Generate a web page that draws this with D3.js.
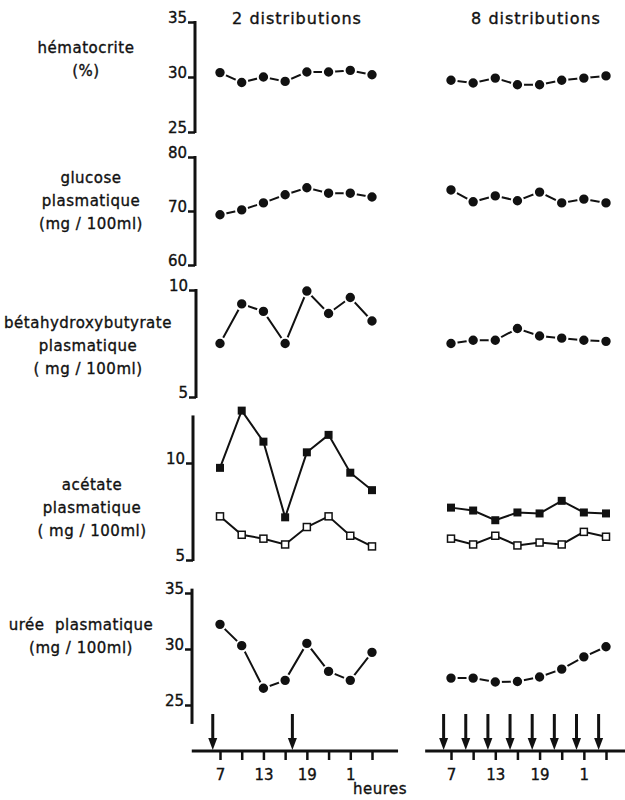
<!DOCTYPE html>
<html>
<head>
<meta charset="utf-8">
<script src="https://cdn.jsdelivr.net/npm/d3@7"></script>
<style>
  body { margin: 0; background: #fff; }
  svg text { font-family: "DejaVu Sans", sans-serif; fill: #111; stroke: #111; stroke-width: 0.35px; }
</style>
</head>
<body>
<div class="graph"></div>
<script>
// sampling hours (25 = 1h, 28 = 4h next day)
const hours = [7, 10, 13, 16, 19, 22, 25, 28];
const hourLabels = { 7: "7", 13: "13", 19: "19", 25: "1" };
// meal times (arrows)
const mealsTwo = [6, 17];
const mealsEight = [6, 9, 12, 15, 18, 21, 24, 27];

// values
const hematocrite2 = [30.4, 29.5, 30.0, 29.6, 30.45, 30.45, 30.6, 30.2];
const hematocrite8 = [29.7, 29.45, 29.9, 29.3, 29.3, 29.7, 29.9, 30.1];
const glucose2 = [69.3, 70.2, 71.5, 73.0, 74.3, 73.3, 73.3, 72.6];
const glucose8 = [73.9, 71.7, 72.8, 71.9, 73.5, 71.5, 72.2, 71.5];
const bhb2 = [7.5, 9.35, 9.0, 7.5, 9.95, 8.9, 9.65, 8.55];
const bhb8 = [7.5, 7.65, 7.65, 8.2, 7.85, 7.75, 7.65, 7.6];
const acetateFilled2 = [9.75, 12.7, 11.1, 7.2, 10.55, 11.45, 9.5, 8.6];
const acetateOpen2 = [7.25, 6.3, 6.1, 5.8, 6.7, 7.25, 6.25, 5.7];
const acetateFilled8 = [7.7, 7.55, 7.05, 7.45, 7.4, 8.05, 7.45, 7.4];
const acetateOpen8 = [6.1, 5.8, 6.25, 5.75, 5.9, 5.8, 6.45, 6.2];
const uree2 = [32.2, 30.3, 26.5, 27.2, 30.5, 28.0, 27.2, 29.7];
const uree8 = [27.4, 27.4, 27.05, 27.1, 27.5, 28.2, 29.3, 30.2];

const width = 625, height = 800;

const svg = d3.select(".graph").append("svg")
    .attr("width", width)
    .attr("height", height);

// x scales for the two halves
const xLeft = d3.scaleLinear().domain([7, 28]).range([220, 372]);
const xRight = d3.scaleLinear().domain([7, 28]).range([451, 606]);

// panel layout
const panels = [
    { label: ["hématocrite", "(%)"], labelX: 86, labelY: 48, domain: [25, 35], range: [132, 22],
      ticks: [25, 30, 35], axisX: 195, axisExtent: [25, 35],
      series: [{ left: hematocrite2, right: hematocrite8, shape: "circle" }] },
    { label: ["glucose", "plasmatique", "(mg / 100ml)"], labelX: 91, labelY: 178, domain: [60, 80], range: [265, 157],
      ticks: [60, 70, 80], axisX: 195, axisExtent: [60, 80],
      series: [{ left: glucose2, right: glucose8, shape: "circle" }] },
    { label: ["bétahydroxybutyrate", "plasmatique", "( mg / 100ml)"], labelX: 88, labelY: 323, domain: [5, 10], range: [397, 290],
      ticks: [5, 10], axisX: 196, axisExtent: [5, 10],
      series: [{ left: bhb2, right: bhb8, shape: "circle" }] },
    { label: ["acétate", "plasmatique", "( mg / 100ml)"], labelX: 92, labelY: 485, domain: [5, 10], range: [560, 463],
      ticks: [5, 10], axisX: 193, axisExtent: [5, 12.4],
      series: [{ left: acetateFilled2, right: acetateFilled8, shape: "filled" },
               { left: acetateOpen2, right: acetateOpen8, shape: "open" }] },
    { label: ["urée  plasmatique", "(mg / 100ml)"], labelX: 81, labelY: 625, domain: [25, 35], range: [705, 593],
      ticks: [25, 30, 35], axisX: 192, axisExtent: [23.4, 35.3],
      series: [{ left: uree2, right: uree8, shape: "circle" }] }
];

// column titles
svg.append("text").attr("x", 297).attr("y", 24).attr("text-anchor", "middle")
    .style("font-size", "16px").style("letter-spacing", "1px").text("2 distributions");
svg.append("text").attr("x", 536).attr("y", 24).attr("text-anchor", "middle")
    .style("font-size", "16px").style("letter-spacing", "1px").text("8 distributions");

panels.forEach(function(p) {
    const y = d3.scaleLinear().domain(p.domain).range(p.range);
    const g = svg.append("g");

    // label on the left
    p.label.forEach(function(line, i) {
        g.append("text")
            .attr("x", p.labelX)
            .attr("y", p.labelY + 5 + i * 23)
            .attr("text-anchor", "middle")
            .style("font-size", "15px")
            .style("letter-spacing", "0.5px")
            .style("white-space", "pre")
            .text(line);
    });

    // y axis
    const axis = g.append("g")
        .attr("transform", "translate(" + p.axisX + ",0)")
        .call(d3.axisLeft(y).tickValues(p.ticks).tickSize(7).tickPadding(1).tickFormat(d3.format("d")));
    axis.select(".domain").remove();
    axis.selectAll(".tick line").attr("stroke", "#111").attr("stroke-width", 2.5);
    axis.selectAll(".tick text")
        .attr("dy", "0.05em")
        .style("font-size", "15px")
        .style("font-family", "DejaVu Sans, sans-serif");
    g.append("line")
        .attr("x1", p.axisX).attr("x2", p.axisX)
        .attr("y1", y(p.axisExtent[0]) + 1).attr("y2", y(p.axisExtent[1]) - 1)
        .attr("stroke", "#111").attr("stroke-width", 3);

    // series for both halves
    p.series.forEach(function(s) {
        [[xLeft, s.left], [xRight, s.right]].forEach(function(pair) {
            const x = pair[0];
            const vals = pair[1];
            const pts = vals.map(function(v, i) { return [x(hours[i]), y(v)]; });
            g.append("path")
                .attr("d", d3.line()(pts))
                .attr("fill", "none")
                .attr("stroke", "#111")
                .attr("stroke-width", 2);
            if (s.shape === "circle") {
                g.selectAll(null).data(pts).enter().append("circle")
                    .attr("cx", function(d) { return d[0]; })
                    .attr("cy", function(d) { return d[1]; })
                    .attr("r", 5.7)
                    .attr("fill", "#111")
                    .attr("stroke", "#fff")
                    .attr("stroke-width", 2);
            } else if (s.shape === "filled") {
                g.selectAll(null).data(pts).enter().append("rect")
                    .attr("x", function(d) { return d[0] - 4; })
                    .attr("y", function(d) { return d[1] - 4; })
                    .attr("width", 8).attr("height", 8)
                    .attr("fill", "#111");
            } else {
                g.selectAll(null).data(pts).enter().append("rect")
                    .attr("x", function(d) { return d[0] - 3.5; })
                    .attr("y", function(d) { return d[1] - 3.5; })
                    .attr("width", 7).attr("height", 7)
                    .attr("fill", "#fff")
                    .attr("stroke", "#111")
                    .attr("stroke-width", 1.5);
            }
        });
    });
});

// time axes at the bottom
const axisY = 751;
function drawTimeAxis(x, extent, meals) {
    const g = svg.append("g").attr("transform", "translate(0," + axisY + ")");
    const ax = g.call(d3.axisBottom(x).tickValues(hours).tickSize(9).tickPadding(9)
        .tickFormat(function(d) { return hourLabels[d] || ""; }));
    ax.select(".domain").remove();
    ax.selectAll(".tick line").attr("stroke", "#111").attr("stroke-width", 2.5);
    ax.selectAll(".tick text").style("font-size", "15px").style("font-family", "DejaVu Sans, sans-serif");
    g.append("line")
        .attr("x1", x(extent[0])).attr("x2", x(extent[1]))
        .attr("y1", 0).attr("y2", 0)
        .attr("stroke", "#111").attr("stroke-width", 3);

    // meal arrows
    meals.forEach(function(m) {
        const ax0 = x(m);
        svg.append("line")
            .attr("x1", ax0).attr("x2", ax0)
            .attr("y1", axisY - 37).attr("y2", axisY - 10)
            .attr("stroke", "#111").attr("stroke-width", 3);
        svg.append("path")
            .attr("d", "M" + (ax0 - 4.5) + "," + (axisY - 13) + "L" + (ax0 + 4.5) + "," + (axisY - 13) + "L" + ax0 + "," + (axisY - 1) + "Z")
            .attr("fill", "#111");
    });
}
drawTimeAxis(xLeft, [3.1, 31.6], mealsTwo);
drawTimeAxis(xRight, [3.5, 30.9], mealsEight);

svg.append("text").attr("x", 380).attr("y", 794).attr("text-anchor", "middle")
    .style("font-size", "15px").style("letter-spacing", "0.5px").text("heures");
</script>
</body>
</html>
